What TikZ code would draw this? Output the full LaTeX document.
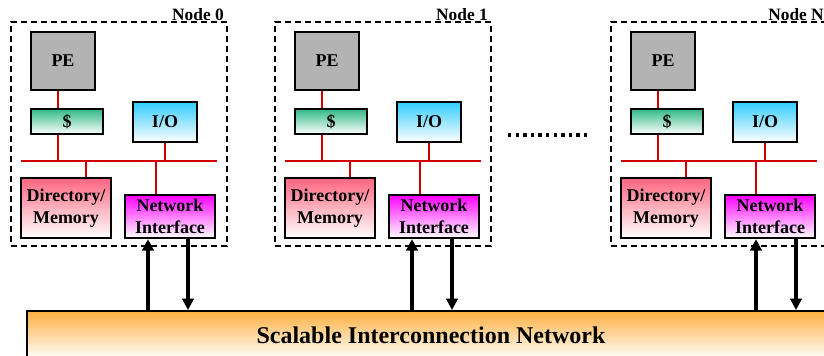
\documentclass[tikz,border=0pt]{standalone}
\usepackage{fontspec}
\setmainfont{Liberation Serif}
\usetikzlibrary{
  positioning,
  arrows.meta
}
\definecolor{peGray}{HTML}{B3B3B3}
\definecolor{cacheGreen}{HTML}{2EB887}
\definecolor{ioBlue}{HTML}{33CCFF}
\definecolor{memRed}{HTML}{FF6680}
\definecolor{niMagenta}{HTML}{FF00FF}
\definecolor{netOrange}{HTML}{FFB040}
\definecolor{busRed}{HTML}{CC0000}
\tikzset{
  unit/.style     = {rectangle, draw=black, line width=1.5pt, inner sep=0pt,
                     align=center, font=\fontsize{13.5}{16.5}\selectfont\bfseries},
  pe/.style       = {unit, fill=peGray, minimum width=48pt, minimum height=43.5pt},
  cache/.style    = {unit, top color=cacheGreen, bottom color=white,
                     minimum width=54pt, minimum height=19pt},
  io/.style       = {unit, top color=ioBlue, bottom color=white,
                     minimum width=48pt, minimum height=30pt},
  mem/.style      = {unit, top color=memRed, bottom color=white,
                     minimum width=67.5pt, minimum height=45pt},
  ni/.style       = {unit, top color=niMagenta, bottom color=white,
                     minimum width=67.5pt, minimum height=32.5pt},
  net/.style      = {rectangle, draw=black, line width=1.5pt,
                     top color=netOrange, bottom color=white,
                     minimum width=606pt, minimum height=36pt,
                     font=\fontsize{18}{20}\selectfont\bfseries},
  nodebox/.style  = {rectangle, draw=black, line width=1.3pt,
                     dash pattern=on 4.5pt off 3pt,
                     minimum width=162pt, minimum height=168pt},
  nodelabel/.style= {anchor=base east, inner sep=0pt,
                     font=\fontsize{13}{15}\selectfont\bfseries},
  bus/.style      = {draw=busRed, line width=1.3pt},
  link/.style     = {-{Triangle[length=8.5pt, width=8.5pt]}, line width=2.4pt},
  dots/.style     = {line width=2.5pt, dash pattern=on 2.5pt off 3.2pt}
}

\begin{document}
\begin{tikzpicture}[x=0.75pt, y=-0.75pt]
\clip (0,0) rectangle (824,356);

% interconnect
\node[net] (net) at (431,335) {Scalable Interconnection Network};

% the three nodes, same layout shifted
\foreach \dx/\i/\ax in {0/0/0, 264/1/0, 600/N/8} {
  \begin{scope}[xshift=\dx*0.75pt]
    \node[nodebox] (box\i) at (119,134) {};
    \node[nodelabel] (lbl\i) at (224,21) {Node \i};
    \node[pe] (pe\i) at (63,61) {PE};
    \node[cache] (cache\i) at (67,121.5) {\$};
    \node[io] (io\i) at (165,122) {I/O};
    \node[mem] (mem\i) at (66,208) {Directory/\\Memory};
    \node[ni] (ni\i) at (170,216.5) {Network\\Interface};
    \coordinate (busL\i) at (21,161);
    \coordinate (busR\i) at (217,161);
    \coordinate (tapC\i) at (58,0);
    \coordinate (tapM\i) at (86,0);
    \coordinate (tapN\i) at (156,0);
    \coordinate (up\i) at (148+\ax,0);
    \coordinate (dn\i) at (188+\ax,0);
    % bus
    \draw[bus] (busL\i) -- (busR\i);
    \draw[bus] (tapC\i |- pe\i.south) -- (tapC\i |- cache\i.north);
    \draw[bus] (tapC\i |- cache\i.south) -- (tapC\i |- busL\i);
    \draw[bus] (io\i.south) -- (io\i.south |- busL\i);
    \draw[bus] (tapM\i |- busL\i) -- (tapM\i |- mem\i.north);
    \draw[bus] (tapN\i |- busL\i) -- (tapN\i |- ni\i.north);
    % to and from the network
    \draw[link] (up\i |- net.north) -- (up\i |- ni\i.south);
    \draw[link] (dn\i |- ni\i.south) -- (dn\i |- net.north);
  \end{scope}
}

\draw[dots] (508,135) -- (587,135);
\end{tikzpicture}
\end{document}
